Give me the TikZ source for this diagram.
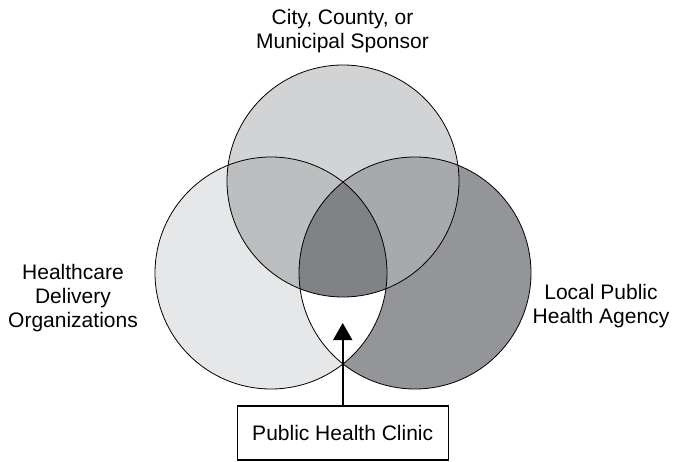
\documentclass[tikz,border=0pt]{standalone}
\usepackage{fontspec}
\setmainfont{Liberation Sans}
\usepackage{tikz}
\usetikzlibrary{arrows.meta}
\definecolor{sponsorgray}{RGB}{209, 211, 212}
\definecolor{healthcaregray}{RGB}{230, 231, 232}
\definecolor{agencygray}{RGB}{147, 149, 152}
\definecolor{sponsorcaregray}{RGB}{188, 190, 192}
\definecolor{sponsoragencygray}{RGB}{167, 169, 172}
\definecolor{allgray}{RGB}{128, 130, 133}

\begin{document}
\begin{tikzpicture}[x=1pt, y=1pt,
    label/.style={font=\fontsize{21}{24}\selectfont, align=center, inner sep=0pt},
    clinicbox/.style={draw, line width=1.2pt, minimum width=211pt, minimum height=54pt,
        font=\fontsize{21}{24}\selectfont}]
    \useasboundingbox (0,0) rectangle (674,461);
    \def\rad{116pt}
    % Single circles
    \fill[healthcaregray] (271,188) circle (\rad);
    \fill[agencygray] (415,188) circle (\rad);
    \begin{scope}
        \clip (271,188) circle (\rad);
        \fill[white] (415,188) circle (\rad);
    \end{scope}
    \fill[sponsorgray] (343,280) circle (\rad);
    % Overlaps with the sponsor
    \begin{scope}
        \clip (343,280) circle (\rad);
        \fill[sponsorcaregray] (271,188) circle (\rad);
        \fill[sponsoragencygray] (415,188) circle (\rad);
        \clip (271,188) circle (\rad);
        \fill[allgray] (415,188) circle (\rad);
    \end{scope}
    % Outlines
    \draw[line width=0.8pt] (343,280) circle (\rad);
    \draw[line width=0.8pt] (271,188) circle (\rad);
    \draw[line width=0.8pt] (415,188) circle (\rad);

    \node[label] (sponsor) at (342.5,430) {City, County, or\\Municipal Sponsor};
    \node[label] (healthcare) at (73,163) {Healthcare\\Delivery\\Organizations};
    \node[label] (agency) at (601,155) {Local Public\\Health Agency};

    % Clinic
    \node[clinicbox] (clinic) at (342.7,28) {Public Health Clinic};
    \coordinate (cliniczone) at (342.7,138);
    \draw[line width=1.6pt, -{Triangle[width=19pt, length=17pt]}] (clinic.north) -- (cliniczone);
\end{tikzpicture}
\end{document}
